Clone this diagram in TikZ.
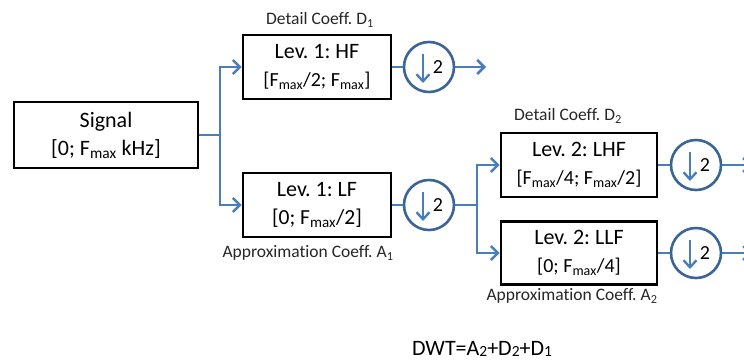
\documentclass[tikz,border=0pt]{standalone}
\usepackage{fontspec}
\setmainfont{Carlito}[Ligatures=NoCommon]
\usetikzlibrary{arrows.meta}
\frenchspacing

\definecolor{flow}{HTML}{4A7EBB}
\definecolor{ringblue}{HTML}{3A6594}
\definecolor{captext}{HTML}{262626}

% subscript as used in the band limits
\newcommand{\lowidx}[1]{\textsubscript{#1}}
% smaller index digit kept near the baseline
\newcommand{\flatidx}[1]{\raisebox{-0.15ex}{\fontsize{15.5}{15.5}\selectfont #1}}

% downsampling-by-two block
\newcommand{\downtwo}[2]{%
  \node[ringnode] (#1) at (#2) {};
  \draw[dnarr] ([shift={(-6,-13)}]#1.center) -- ++(0,29);
  \node[inner sep=0pt, font=\fontsize{20}{20}\selectfont] at ([shift={(9,0)}]#1.center) {2};
}

\begin{document}
\begin{tikzpicture}[x=1pt,y=-1pt,
  filt/.style={draw=black, line width=2.8pt, minimum width=148pt, minimum height=64pt,
    inner sep=0pt, align=center, font=\fontsize{22}{28}\selectfont},
  ringnode/.style={circle, draw=ringblue, line width=2.6pt, minimum size=50pt, inner sep=0pt},
  flowline/.style={draw=flow, line width=2.5pt},
  arr/.style={flowline, -{Straight Barb[length=7pt,width=14pt]}},
  dnarr/.style={draw=flow, line width=2.4pt, -{Straight Barb[length=7pt,width=13pt]}},
  captxt/.style={font=\fontsize{17.5}{20}\selectfont, text=captext, inner sep=0pt}
]
\useasboundingbox (0,0) rectangle (744,360);

% filter boxes
\node[filt, minimum width=184pt, minimum height=66pt] (sig) at (106,135)
  {Signal\\{[0; F\lowidx{max} kHz]}};
\node[filt] (hf) at (317,67)
  {Lev. 1: HF\\{\fontsize{20}{24}\selectfont [F\lowidx{max}/2; F\lowidx{max}]}};
\node[filt] (lf) at (317,205)
  {Lev. 1: LF\\{\fontsize{21.5}{26}\selectfont [0; F\lowidx{max}/2]}};
\node[filt, minimum width=156pt] (lhf) at (579,165)
  {Lev. 2: LHF\\{\fontsize{20}{24}\selectfont [F\lowidx{max}/4; F\lowidx{max}/2]}};
\node[filt, minimum width=156pt, minimum height=63pt] (llf) at (579,253)
  {Lev. 2: LLF\\{\fontsize{20}{24}\selectfont [0; F\lowidx{max}/4]}};

% downsamplers
\downtwo{c1}{429,67}
\downtwo{c2}{429,205}
\downtwo{c3}{696,165}
\downtwo{c4}{696,253}

% branch points and free ends
\coordinate (s1) at (220,135);
\coordinate (s2) at (477,205);
\coordinate (o1) at (486,67);
\coordinate (o3) at (752,165);
\coordinate (o4) at (752,253);

% connectors
\draw[flowline] (sig.east) -- (s1);
\draw[arr] (s1) |- (hf.west);
\draw[arr] (s1) |- (lf.west);
\draw[flowline] (hf.east) -- (c1.west);
\draw[arr] (c1.east) -- (o1);
\draw[flowline] (lf.east) -- (c2.west);
\draw[flowline] (c2.east) -- (s2);
\draw[arr] (s2) |- (lhf.west);
\draw[arr] (s2) |- (llf.west);
\draw[flowline] (lhf.east) -- (c3.west);
\draw[arr] (c3.east) -- (o3);
\draw[flowline] (llf.east) -- (c4.west);
\draw[arr] (c4.east) -- (o4);

% coefficient labels
\node[captxt] (d1) at (320,20) {Detail Coeff. D\lowidx{1}};
\node[captxt] (a1) at (308,253) {Approximation Coeff. A\lowidx{1}};
\node[captxt] (d2) at (568,116) {Detail Coeff. D\lowidx{2}};
\node[captxt] (a2) at (572,296) {Approximation Coeff. A\lowidx{2}};

% decomposition sum
\node[inner sep=0pt, font=\fontsize{22}{24}\selectfont] (dwt) at (482,349)
  {DWT=A\flatidx{2}+D\flatidx{2}+D\flatidx{1}};
\end{tikzpicture}
\end{document}
